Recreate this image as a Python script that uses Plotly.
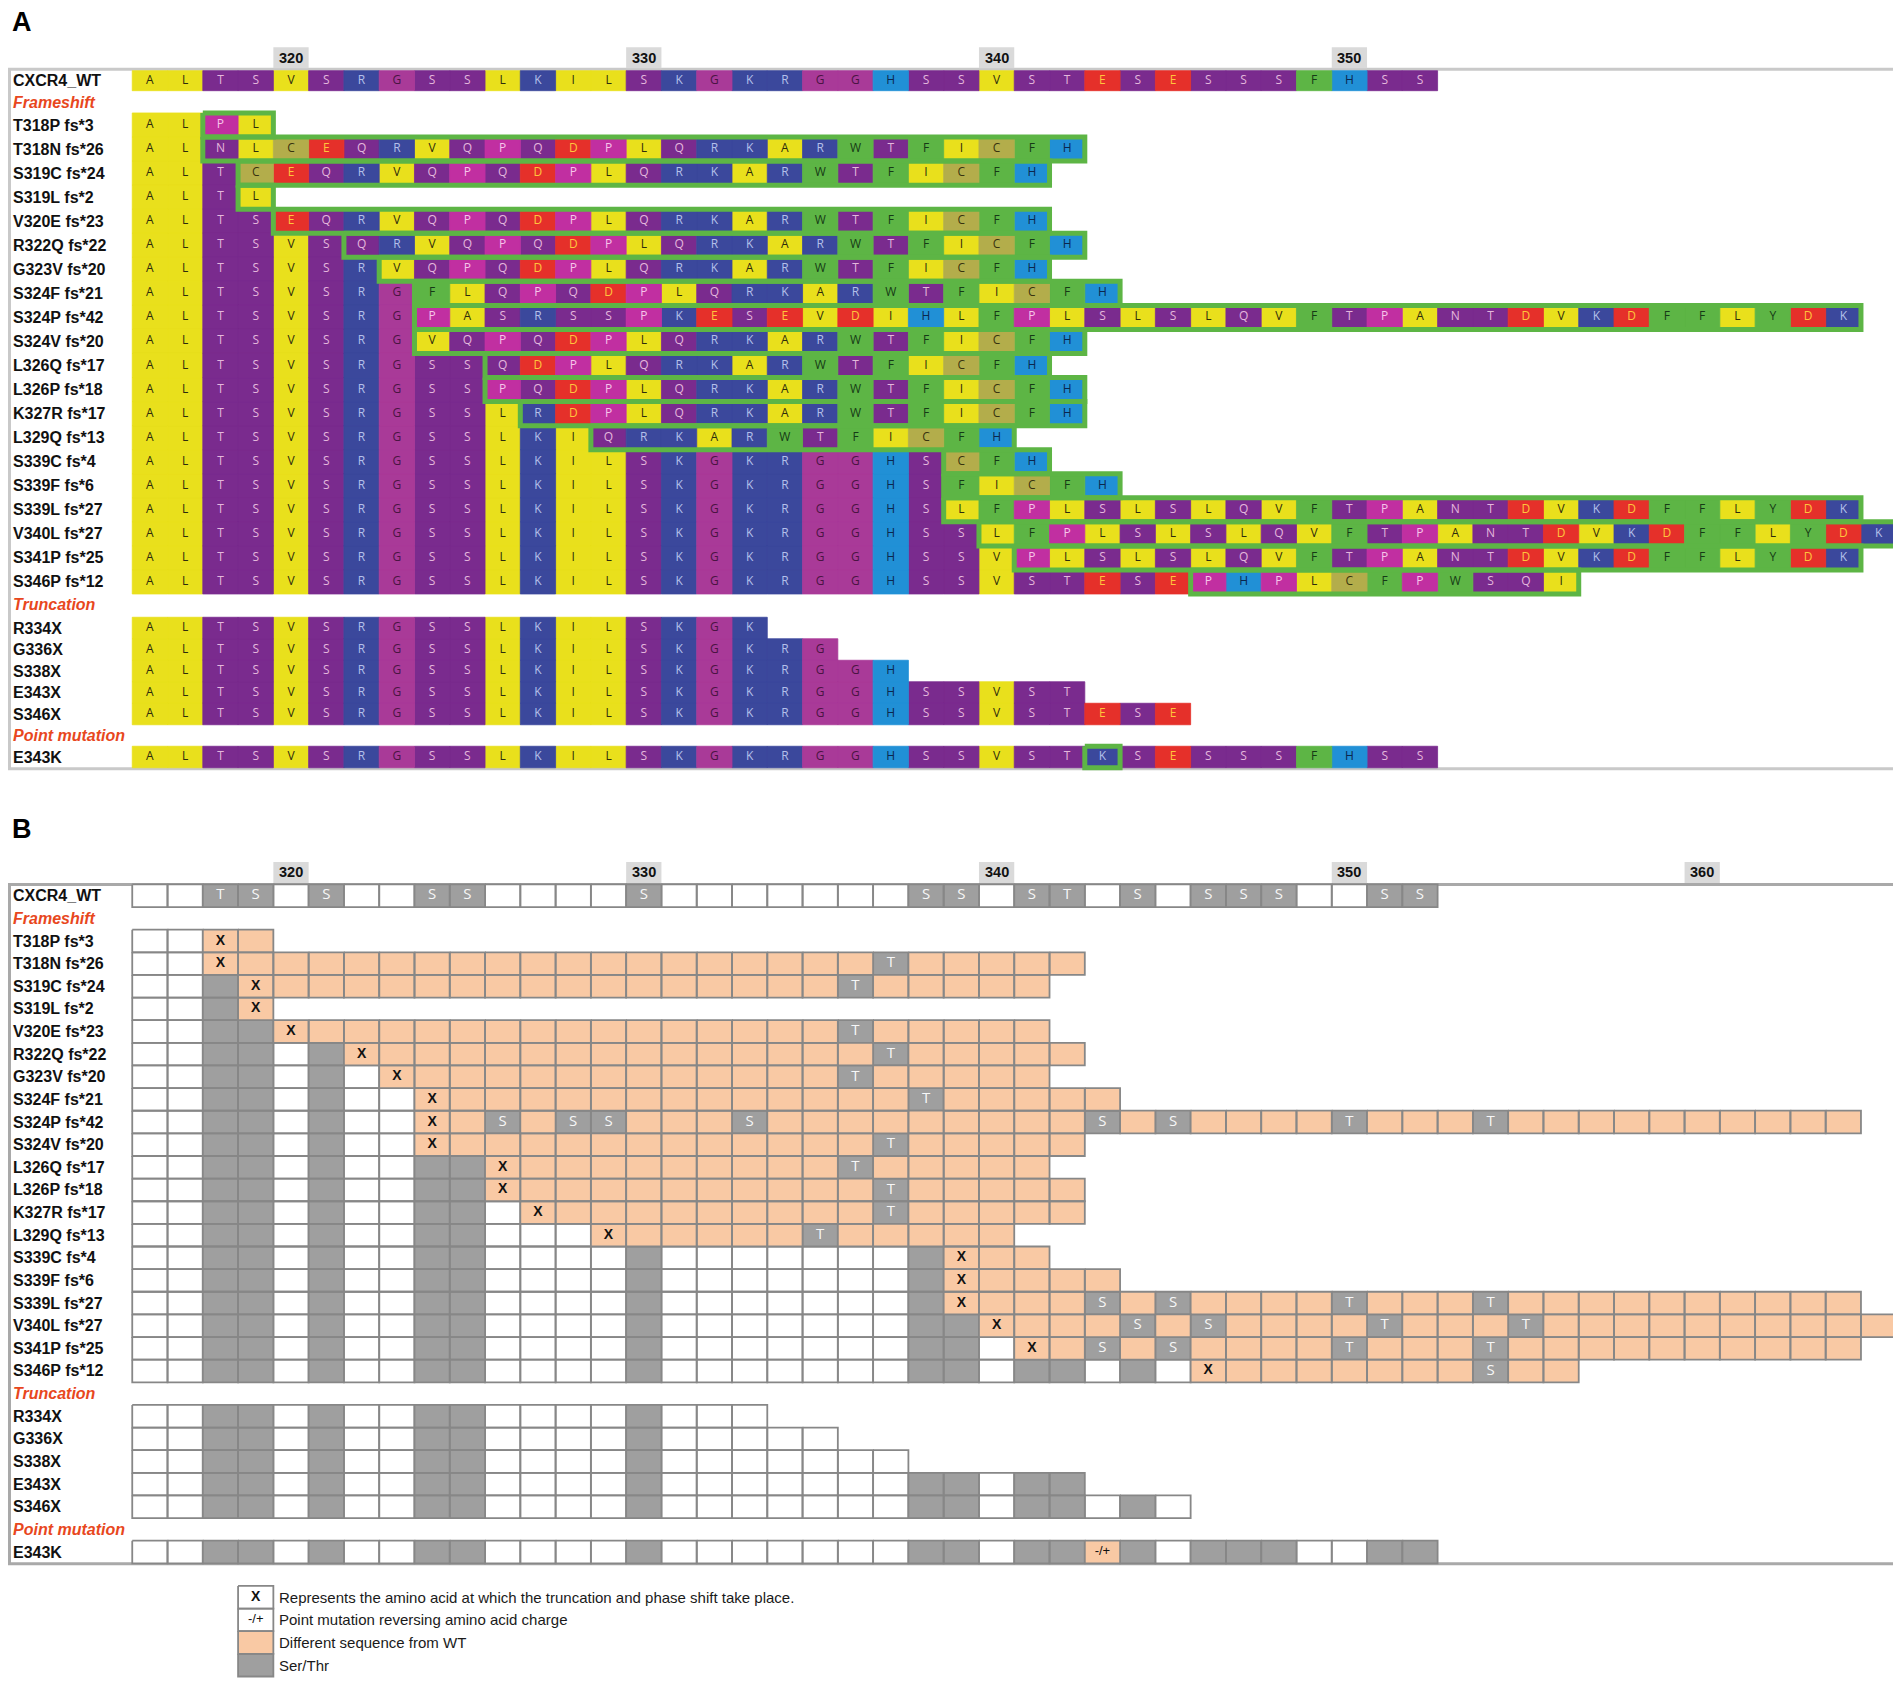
import plotly.graph_objects as go

# ---- data -------------------------------------------------------------
WT_LABEL = "CXCR4_WT"
WT_START = 316
WT_SEQ = "ALTSVSRGSSLKILSKGKRGGHSSVSTESESSSFHSS"

FS_LABELS = ["T318P fs*3", "T318N fs*26", "S319C fs*24", "S319L fs*2", "V320E fs*23",
             "R322Q fs*22", "G323V fs*20", "S324F fs*21", "S324P fs*42", "S324V fs*20",
             "L326Q fs*17", "L326P fs*18", "K327R fs*17", "L329Q fs*13", "S339C fs*4",
             "S339F fs*6", "S339L fs*27", "V340L fs*27", "S341P fs*25", "S346P fs*12"]
FS_START = [318, 318, 319, 319, 320, 322, 323, 324, 324, 324,
            326, 326, 327, 329, 339, 339, 339, 340, 341, 346]
FS_SEQ = ["PL",
          "NLCEQRVQPQDPLQRKARWTFICFH",
          "CEQRVQPQDPLQRKARWTFICFH",
          "L",
          "EQRVQPQDPLQRKARWTFICFH",
          "QRVQPQDPLQRKARWTFICFH",
          "VQPQDPLQRKARWTFICFH",
          "FLQPQDPLQRKARWTFICFH",
          "PASRSSPKESEVDIHLFPLSLSLQVFTPANTDVKDFFLYDK",
          "VQPQDPLQRKARWTFICFH",
          "QDPLQRKARWTFICFH",
          "PQDPLQRKARWTFICFH",
          "RDPLQRKARWTFICFH",
          "QRKARWTFICFH",
          "CFH",
          "FICFH",
          "LFPLSLSLQVFTPANTDVKDFFLYDK",
          "LFPLSLSLQVFTPANTDVKDFFLYDK",
          "PLSLSLQVFTPANTDVKDFFLYDK",
          "PHPLCFPWSQI"]

TRUNC_LABELS = ["R334X", "G336X", "S338X", "E343X", "S346X"]
TRUNC_POS = [334, 336, 338, 343, 346]

POINT_LABELS = ["E343K"]
POINT_POS = [343]
POINT_AA = ["K"]

TICKS_A = [320, 330, 340, 350]
TICKS_B = [320, 330, 340, 350, 360]

LEGEND_MARKS = ["X", "-/+", "", ""]
LEGEND_KIND = ["white", "white", "diff", "st"]
LEGEND_TEXT = ["Represents the amino acid at which the truncation and phase shift take place.",
               "Point mutation reversing amino acid charge",
               "Different sequence from WT",
               "Ser/Thr"]

SECTIONS = ["Frameshift", "Truncation", "Point mutation"]

# ---- styles -----------------------------------------------------------
YELLOW, GREEN, PURPLE, BLUE = "#e9e01c", "#5db545", "#7a2b8e", "#3b489c"
AA_FILL = {}
AA_TEXT = {}
for aa in "ALVI":
    AA_FILL[aa], AA_TEXT[aa] = YELLOW, "#2e2c0c"
for aa in "FWY":
    AA_FILL[aa], AA_TEXT[aa] = GREEN, "#163a16"
for aa in "STQN":
    AA_FILL[aa], AA_TEXT[aa] = PURPLE, "#e4b7dc"
for aa in "KR":
    AA_FILL[aa], AA_TEXT[aa] = BLUE, "#b4c0ea"
for aa in "DE":
    AA_FILL[aa], AA_TEXT[aa] = "#e5302a", "#ffc53c"
AA_FILL["G"], AA_TEXT["G"] = "#a93a98", "#4a1442"
AA_FILL["P"], AA_TEXT["P"] = "#c12fa1", "#f6c6ea"
AA_FILL["H"], AA_TEXT["H"] = "#2190d6", "#0b274e"
AA_FILL["C"], AA_TEXT["C"] = "#b3ad4b", "#37330f"

B_WHITE, B_ST, B_DIFF, B_LINE = "#ffffff", "#9f9f9f", "#f9c9a4", "#878787"
LABEL_FONT = "Arial, Liberation Sans, sans-serif"
AA_FONT = "Open Sans, Liberation Sans, sans-serif"
SECTION_COLOR = "#e8471d"

PAGE_W, PAGE_H = 1901, 1681
OFFSET = 8             # page body margin
COL_W = 35.28          # px per residue
COL320_PX = 291.0      # page px centre of residue 320

# panel A row geometry (page px from top)
A_WT_Y, A_WT_H = 80.7, 20.0
A_FS_Y0, A_FS_P = 125.0, 24.05
A_TR_Y0, A_TR_P = 628.0, 21.5
# panel B row geometry
B_Y0, B_P = 941.0, 22.63

fills_a = {}
fills_b = {}
texts = {}
green_x, green_y = [], []


def add_rect(store, color, x0, x1, y0, y1):
    xs, ys = store.setdefault(color, ([], []))
    xs += [x0, x1, x1, x0, x0, None]
    ys += [y0, y0, y1, y1, y0, None]


def add_text(color, size, x, y, s):
    xs, ys, ts = texts.setdefault((color, size), ([], [], []))
    xs.append(x)
    ys.append(y)
    ts.append(s)


def a_cell(pos, aa, yc, h):
    add_rect(fills_a, AA_FILL[aa], pos - 0.5, pos + 0.5, yc - h / 2, yc + h / 2)
    add_text(AA_TEXT[aa], 12, pos, yc, aa)


def green_box(p0, p1, yc, h):
    green_x.extend([p0 - 0.5, p1 + 0.5, p1 + 0.5, p0 - 0.5, p0 - 0.5, None])
    green_y.extend([yc - h / 2, yc - h / 2, yc + h / 2, yc + h / 2, yc - h / 2, None])


def b_cell(pos, kind, yc, mark=""):
    color = {"white": B_WHITE, "st": B_ST, "diff": B_DIFF}[kind]
    add_rect(fills_b, color, pos - 0.5, pos + 0.5, yc - B_P / 2, yc + B_P / 2)
    if mark in ("S", "T"):
        add_text("#f7f7f7", 15, pos, yc, mark)
    elif mark == "X":
        add_text("#111111", 14, pos, yc, "<b>X</b>")
    elif mark:
        add_text("#111111", 13, pos, yc, mark)


def wt_aa(pos):
    return WT_SEQ[pos - WT_START]


# ---- panel A ----------------------------------------------------------
row_labels = []   # (y, text, section?)
for i, aa in enumerate(WT_SEQ):
    a_cell(WT_START + i, aa, A_WT_Y, A_WT_H)
row_labels.append((A_WT_Y, WT_LABEL, False))
row_labels.append(((A_WT_Y + A_WT_H / 2 + A_FS_Y0 - A_FS_P / 2) / 2 + 1, SECTIONS[0], True))

for i, (lab, start, seq) in enumerate(zip(FS_LABELS, FS_START, FS_SEQ)):
    yc = A_FS_Y0 + i * A_FS_P
    for pos in range(WT_START, start):
        a_cell(pos, wt_aa(pos), yc, A_FS_P)
    for j, aa in enumerate(seq):
        a_cell(start + j, aa, yc, A_FS_P)
    green_box(start, start + len(seq) - 1, yc, A_FS_P)
    row_labels.append((yc, lab, False))

last_fs = A_FS_Y0 + (len(FS_LABELS) - 1) * A_FS_P
row_labels.append(((last_fs + A_TR_Y0) / 2, SECTIONS[1], True))
for i, (lab, stop) in enumerate(zip(TRUNC_LABELS, TRUNC_POS)):
    yc = A_TR_Y0 + i * A_TR_P
    for pos in range(WT_START, stop):
        a_cell(pos, wt_aa(pos), yc, A_TR_P)
    row_labels.append((yc, lab, False))

pt_title = A_TR_Y0 + len(TRUNC_LABELS) * A_TR_P
row_labels.append((pt_title, SECTIONS[2], True))
for i, (lab, p, new) in enumerate(zip(POINT_LABELS, POINT_POS, POINT_AA)):
    yc = pt_title + (i + 1) * A_TR_P
    for k, aa in enumerate(WT_SEQ):
        pos = WT_START + k
        a_cell(pos, new if pos == p else aa, yc, A_TR_P)
    green_box(p, p, yc, A_TR_P)
    row_labels.append((yc, lab, False))
a_bottom = yc + A_TR_P / 2


# ---- panel B ----------------------------------------------------------
def b_y(k):
    return B_Y0 + k * B_P


b_wt_y = b_y(-2)
for i, aa in enumerate(WT_SEQ):
    st = aa in "ST"
    b_cell(WT_START + i, "st" if st else "white", b_wt_y, aa if st else "")
row_labels.append((b_wt_y, WT_LABEL, False))
row_labels.append((b_y(-1), SECTIONS[0], True))

for i, (lab, start, seq) in enumerate(zip(FS_LABELS, FS_START, FS_SEQ)):
    yc = b_y(i)
    for pos in range(WT_START, start):
        b_cell(pos, "st" if wt_aa(pos) in "ST" else "white", yc)
    for j, aa in enumerate(seq):
        if j == 0:
            b_cell(start, "diff", yc, "X")
        elif aa in "ST":
            b_cell(start + j, "st", yc, aa)
        else:
            b_cell(start + j, "diff", yc)
    row_labels.append((yc, lab, False))

k0 = len(FS_LABELS)
row_labels.append((b_y(k0), SECTIONS[1], True))
for i, (lab, stop) in enumerate(zip(TRUNC_LABELS, TRUNC_POS)):
    yc = b_y(k0 + 1 + i)
    for pos in range(WT_START, stop):
        b_cell(pos, "st" if wt_aa(pos) in "ST" else "white", yc)
    row_labels.append((yc, lab, False))

k1 = k0 + 1 + len(TRUNC_LABELS)
row_labels.append((b_y(k1), SECTIONS[2], True))
for i, (lab, p) in enumerate(zip(POINT_LABELS, POINT_POS)):
    yc = b_y(k1 + 1 + i)
    for k, aa in enumerate(WT_SEQ):
        pos = WT_START + k
        if pos == p:
            b_cell(pos, "diff", yc, "-/+")
        else:
            b_cell(pos, "st" if aa in "ST" else "white", yc)
    row_labels.append((yc, lab, False))
b_bottom = yc + B_P / 2

# legend, drawn as a column of cells under residue 319
leg_k = k1 + 1 + len(POINT_LABELS) + 1
for i, (mark, kind) in enumerate(zip(LEGEND_MARKS, LEGEND_KIND)):
    b_cell(319, kind, b_y(leg_k + i), mark)

# ---- figure -----------------------------------------------------------
fig = go.Figure()
for color, (xs, ys) in fills_a.items():
    fig.add_trace(go.Scatter(x=xs, y=ys, mode="lines", fill="toself", fillcolor=color,
                             line=dict(color=color, width=0.8), hoverinfo="skip"))
fig.add_trace(go.Scatter(x=green_x, y=green_y, mode="lines",
                         line=dict(color=GREEN, width=5), hoverinfo="skip"))
for color, (xs, ys) in fills_b.items():
    fig.add_trace(go.Scatter(x=xs, y=ys, mode="lines", fill="toself", fillcolor=color,
                             line=dict(color=B_LINE, width=1.8), hoverinfo="skip"))
for (color, size), (xs, ys, ts) in texts.items():
    fam = LABEL_FONT if color == "#111111" else AA_FONT
    fig.add_trace(go.Scatter(x=xs, y=ys, text=ts, mode="text", textposition="middle center",
                             textfont=dict(color=color, size=size, family=fam), hoverinfo="skip"))

shapes = []
annotations = []


def px_x(px):
    return 320 + (px - COL320_PX) / COL_W


LEFT_PX = OFFSET + 1.5   # leftmost visible page column

# panel frames
for y0, y1, col in [(A_WT_Y - A_WT_H / 2 - 1.5, a_bottom + 1, "#c9c9c9"),
                    (b_wt_y - B_P / 2, b_bottom + 0.5, "#a9a9a9")]:
    shapes.append(dict(type="rect", xref="x", yref="y", x0=px_x(LEFT_PX), x1=px_x(1898),
                       y0=y0, y1=y1, line=dict(color=col, width=3), layer="below"))

# position number boxes
for ticks, yc in [(TICKS_A, A_WT_Y - A_WT_H / 2 - 13), (TICKS_B, b_wt_y - B_P / 2 - 12)]:
    for t in ticks:
        shapes.append(dict(type="rect", xref="x", yref="y", x0=t - 0.5, x1=t + 0.5,
                           y0=yc - 10.5, y1=yc + 10.5, fillcolor="#dadada",
                           line=dict(width=0), layer="below"))
        annotations.append(dict(x=t, y=yc, xref="x", yref="y", text="<b>%d</b>" % t,
                                showarrow=False, font=dict(size=14.5, color="#111111",
                                                           family=LABEL_FONT)))

for yc, lab, section in row_labels:
    if section:
        txt = "<b><i>%s</i></b>" % lab
        fnt = dict(size=16, color=SECTION_COLOR, family=LABEL_FONT)
    else:
        txt = "<b>%s</b>" % lab
        fnt = dict(size=16, color="#111111", family=LABEL_FONT)
    annotations.append(dict(x=px_x(LEFT_PX + 1.5), y=yc, xref="x", yref="y", text=txt,
                            showarrow=False, xanchor="left", yanchor="middle", font=fnt))

for i, txt in enumerate(LEGEND_TEXT):
    annotations.append(dict(x=319.5, y=b_y(leg_k + i), xref="x", yref="y", text=txt,
                            showarrow=False, xanchor="left", xshift=4, yanchor="middle",
                            font=dict(size=15, color="#1a1a1a", family=LABEL_FONT)))

for lab, yc in [("A", 22), ("B", b_wt_y - 67)]:
    annotations.append(dict(x=px_x(LEFT_PX), y=yc, xref="x", yref="y", text="<b>%s</b>" % lab,
                            showarrow=False, xanchor="left", yanchor="middle",
                            font=dict(size=27, color="#000000", family=LABEL_FONT)))

fig.update_layout(
    width=PAGE_W - OFFSET, height=PAGE_H - OFFSET, autosize=False,
    margin=dict(l=0, r=0, t=0, b=0),
    paper_bgcolor="white", plot_bgcolor="white",
    showlegend=False,
    xaxis=dict(range=[px_x(OFFSET), px_x(PAGE_W)], visible=False, fixedrange=True),
    yaxis=dict(range=[PAGE_H, OFFSET], visible=False, fixedrange=True),
    shapes=shapes, annotations=annotations,
)

fig.write_html("out.html")
